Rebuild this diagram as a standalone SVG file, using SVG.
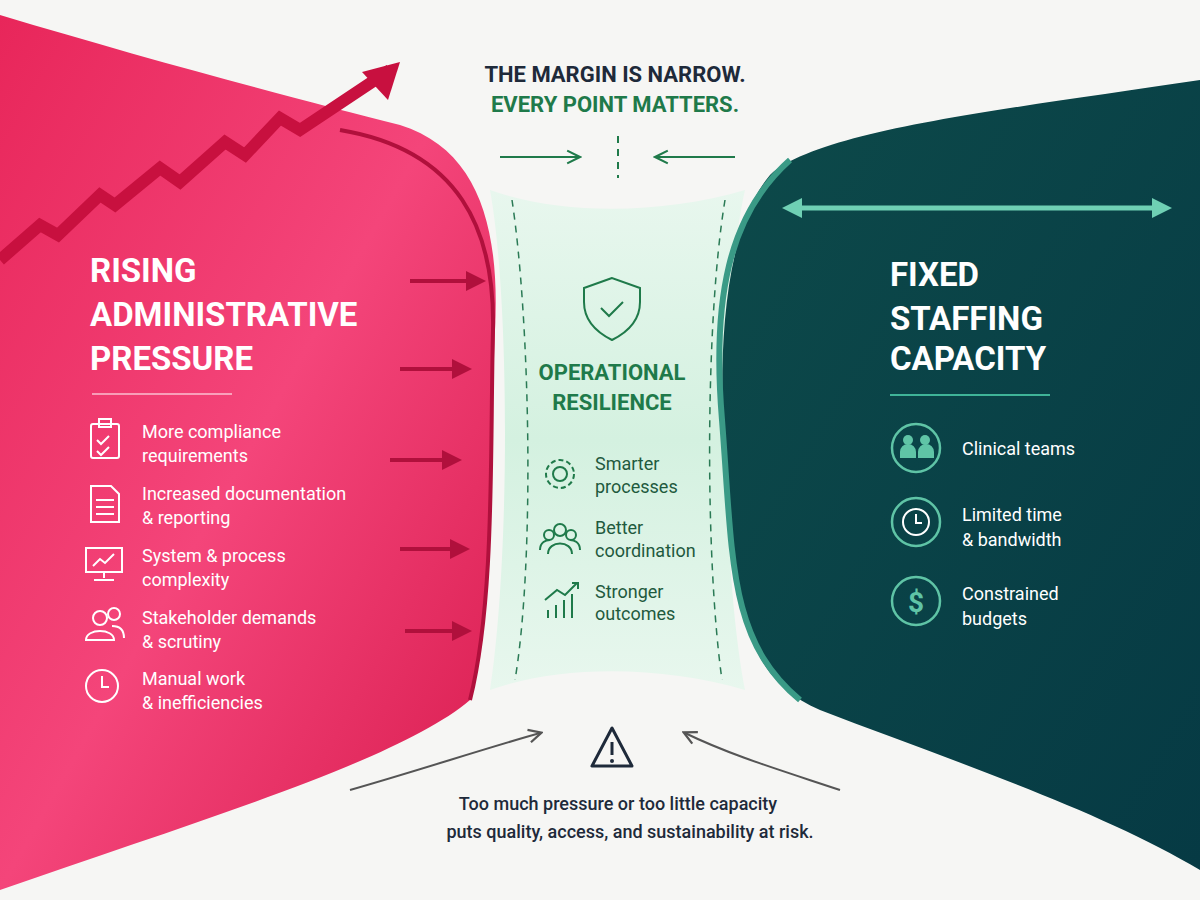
<svg xmlns="http://www.w3.org/2000/svg" width="1200" height="900" viewBox="0 0 1200 900">
<defs>
<linearGradient id="pk" x1="0" y1="0" x2="1" y2="1"><stop offset="0" stop-color="#e8265a"/><stop offset="0.5" stop-color="#f4457a"/><stop offset="1" stop-color="#d81b4e"/></linearGradient>
<linearGradient id="tl" x1="0" y1="0" x2="1" y2="1"><stop offset="0" stop-color="#0d4a4a"/><stop offset="1" stop-color="#063a44"/></linearGradient>
<linearGradient id="gr" x1="0" y1="0" x2="0" y2="1"><stop offset="0" stop-color="#e8f7ee"/><stop offset="0.5" stop-color="#d4f1e0"/><stop offset="1" stop-color="#e8f7ee"/></linearGradient>
<marker id="ar" viewBox="0 0 10 10" refX="8" refY="5" markerWidth="5" markerHeight="5" orient="auto"><path d="M0,0 L10,5 L0,10 z" fill="#b0103c"/></marker>
<marker id="ag" viewBox="0 0 10 10" refX="9" refY="5" markerWidth="8" markerHeight="8" orient="auto"><path d="M1,1 L9,5 L1,9" fill="none" stroke="#1f7a4a" stroke-width="1.3"/></marker>
<marker id="gy" viewBox="0 0 10 10" refX="8" refY="5" markerWidth="8" markerHeight="8" orient="auto"><path d="M1,1 L9,5 L1,9" fill="none" stroke="#555" stroke-width="1.4"/></marker>
<marker id="tt" viewBox="0 0 10 10" refX="5" refY="5" markerWidth="4" markerHeight="4" orient="auto-start-reverse"><path d="M0,0 L10,5 L0,10 z" fill="#6fd0b4"/></marker>
<style>
.h{font-family:Roboto,"Liberation Sans",sans-serif;font-weight:700}
.t{font-family:Roboto,"Liberation Sans",sans-serif;font-size:18px}
.w{fill:#fff}
.ic{fill:none;stroke:#fff;stroke-width:2}
.gi{fill:none;stroke:#1f7a4a;stroke-width:2}
.ti{fill:none;stroke:#5fc4a6;stroke-width:2.5}
</style>
</defs>
<rect width="1200" height="900" fill="#f6f6f4"/>
<g id="middle">
<path d="M490,190 C560,215 660,215 745,190 C720,300 720,560 745,690 C660,665 560,665 490,690 C510,560 510,300 490,190 Z" fill="url(#gr)"/>
<path d="M512,200 C530,320 535,560 515,680" fill="none" stroke="#2a7a55" stroke-width="1.5" stroke-dasharray="7,6"/>
<path d="M725,200 C705,320 705,560 722,680" fill="none" stroke="#2a7a55" stroke-width="1.5" stroke-dasharray="7,6"/>
</g>
<g id="left">
<path d="M0,15 C150,60 300,100 400,125 C480,150 500,230 495,330 C490,450 495,600 470,700 C400,760 200,820 0,890 Z" fill="url(#pk)"/>
<path d="M340,130 C460,150 495,230 493,330 C490,450 495,600 470,700" fill="none" stroke="#b0103c" stroke-width="4"/>
<path d="M0,260 L40,225 L58,235 L100,195 L115,205 L160,168 L180,182 L225,142 L245,155 L280,118 L300,130 L390,70" fill="none" stroke="#c8103f" stroke-width="12" stroke-linejoin="miter"/>
<path d="M400,62 L362,72 L388,100 Z" fill="#c8103f"/>
<text class="h w" font-size="33" x="90" y="282">RISING</text>
<text class="h w" font-size="33" x="90" y="326">ADMINISTRATIVE</text>
<text class="h w" font-size="33" x="90" y="370">PRESSURE</text>
<line x1="92" y1="394" x2="232" y2="394" stroke="#fff" stroke-opacity="0.5" stroke-width="2"/>
<rect x="91" y="424" width="28" height="34" rx="2" class="ic"/><rect x="99" y="419" width="12" height="8" class="ic"/><path d="M97,440 l4,4 l8,-8 M97,451 l4,4 l8,-8" class="ic"/>
<text class="t w" x="142" y="438">More compliance</text><text class="t w" x="142" y="462">requirements</text>
<path d="M91,486 h20 l8,8 v28 h-28 z M96,500 h18 M96,507 h18 M96,514 h18" class="ic"/>
<text class="t w" x="142" y="500">Increased documentation</text><text class="t w" x="142" y="524">&amp; reporting</text>
<rect x="86" y="548" width="36" height="24" class="ic"/><path d="M93,566 l7,-7 l5,4 l9,-9 M104,572 v6 M94,580 h20" class="ic"/>
<text class="t w" x="142" y="562">System &amp; process</text><text class="t w" x="142" y="586">complexity</text>
<circle cx="100" cy="618" r="7" class="ic"/><circle cx="114" cy="614" r="6" class="ic"/><path d="M86,640 c0,-12 28,-12 28,0 z M112,626 c8,0 12,4 12,12" class="ic"/>
<text class="t w" x="142" y="624">Stakeholder demands</text><text class="t w" x="142" y="648">&amp; scrutiny</text>
<circle cx="102" cy="686" r="16" class="ic"/><path d="M102,676 v11 h7" class="ic"/>
<text class="t w" x="142" y="685">Manual work</text><text class="t w" x="142" y="709">&amp; inefficiencies</text>
</g>
<g id="right">
<path d="M1200,80 C1000,110 820,130 770,175 C715,240 718,400 728,500 C738,620 750,680 820,710 C950,760 1100,810 1200,870 Z" fill="url(#tl)"/>
<path d="M790,160 C728,215 712,300 722,420 C733,560 728,640 800,700" fill="none" stroke="#3a9a86" stroke-width="6"/>
<line x1="792" y1="208" x2="1162" y2="208" stroke="#6fd0b4" stroke-width="5" marker-start="url(#tt)" marker-end="url(#tt)"/>
<text class="h w" font-size="33" x="890" y="286">FIXED</text>
<text class="h w" font-size="33" x="890" y="330">STAFFING</text>
<text class="h w" font-size="33" x="890" y="370">CAPACITY</text>
<line x1="890" y1="395" x2="1050" y2="395" stroke="#3fb498" stroke-width="2"/>
<circle cx="916" cy="448" r="24" class="ti"/><circle cx="908" cy="440" r="5" fill="#5fc4a6"/><circle cx="925" cy="440" r="5" fill="#5fc4a6"/><path d="M900,458 v-6 a8,8 0 0 1 16,0 v6 z M918,458 v-6 a8,8 0 0 1 16,0 v6 z" fill="#5fc4a6"/>
<text class="t w" x="962" y="455">Clinical teams</text>
<circle cx="916" cy="522" r="24" class="ti"/><circle cx="916" cy="522" r="13" fill="none" stroke="#fff" stroke-width="2"/><path d="M916,514 v9 h6" fill="none" stroke="#fff" stroke-width="2"/>
<text class="t w" x="962" y="521">Limited time</text><text class="t w" x="962" y="546">&amp; bandwidth</text>
<circle cx="916" cy="601" r="24" class="ti"/><text x="916" y="612" text-anchor="middle" class="h" font-size="28" fill="#5fc4a6">$</text>
<text class="t w" x="962" y="600">Constrained</text><text class="t w" x="962" y="625">budgets</text>
</g>
<g id="center">
<path d="M612,278 l-28,10 v14 c0,18 12,30 28,38 c16,-8 28,-20 28,-38 v-14 z" class="gi" stroke-width="3"/>
<path d="M601,308 l8,8 l14,-14" class="gi" stroke-width="3"/>
<text class="h" font-size="22" fill="#1f7a4a" x="612" y="380" text-anchor="middle">OPERATIONAL</text>
<text class="h" font-size="22" fill="#1f7a4a" x="612" y="410" text-anchor="middle">RESILIENCE</text>
<circle cx="560" cy="474" r="7" class="gi"/><circle cx="560" cy="474" r="14" class="gi" stroke-dasharray="5,3" stroke-width="4"/>
<text class="t" font-size="16" fill="#1f5a3e" x="595" y="470">Smarter</text><text class="t" font-size="16" fill="#1f5a3e" x="595" y="493">processes</text>
<circle cx="560" cy="530" r="6" class="gi"/><circle cx="549" cy="535" r="5" class="gi"/><circle cx="571" cy="535" r="5" class="gi"/><path d="M548,554 c0,-14 24,-14 24,0 M540,550 c0,-8 6,-10 10,-10 M580,550 c0,-8 -6,-10 -10,-10" class="gi"/>
<text class="t" font-size="16" fill="#1f5a3e" x="595" y="534">Better</text><text class="t" font-size="16" fill="#1f5a3e" x="595" y="557">coordination</text>
<path d="M548,618 v-8 M556,618 v-13 M564,618 v-18 M572,618 v-24 M545,600 l12,-10 l8,5 l12,-12 M572,583 h6 v6" class="gi"/>
<text class="t" font-size="16" fill="#1f5a3e" x="595" y="598">Stronger</text><text class="t" font-size="16" fill="#1f5a3e" x="595" y="620">outcomes</text>
</g>
<g id="headline">
<text class="h" font-size="22" fill="#1e2a3a" x="615" y="82" text-anchor="middle">THE MARGIN IS NARROW.</text>
<text class="h" font-size="22" fill="#1f7a4a" x="615" y="112" text-anchor="middle">EVERY POINT MATTERS.</text>
</g>
<g id="warning">
<path d="M612,728 l-20,38 h40 z" fill="none" stroke="#1e2a3a" stroke-width="3" stroke-linejoin="round"/>
<line x1="612" y1="742" x2="612" y2="755" stroke="#1e2a3a" stroke-width="3"/><circle cx="612" cy="761" r="2" fill="#1e2a3a"/>
<text class="t" font-size="19" font-weight="500" fill="#1e2a3a" x="618" y="810" text-anchor="middle">Too much pressure or too little capacity</text>
<text class="t" font-size="19" font-weight="500" fill="#1e2a3a" x="630" y="838" text-anchor="middle">puts quality, access, and sustainability at risk.</text>
</g>
<g id="connectors">
<line x1="500" y1="157" x2="580" y2="157" stroke="#1f7a4a" stroke-width="2" marker-end="url(#ag)"/>
<line x1="735" y1="157" x2="655" y2="157" stroke="#1f7a4a" stroke-width="2" marker-end="url(#ag)"/>
<line x1="618" y1="136" x2="618" y2="178" stroke="#1f7a4a" stroke-width="2" stroke-dasharray="7,6"/>
<g stroke="#b0103c" stroke-width="4" marker-end="url(#ar)">
<line x1="410" y1="281" x2="482" y2="281"/><line x1="400" y1="369" x2="468" y2="369"/><line x1="390" y1="460" x2="458" y2="460"/><line x1="400" y1="549" x2="466" y2="549"/><line x1="405" y1="631" x2="468" y2="631"/>
</g>
<path d="M350,790 C420,770 480,750 540,733" fill="none" stroke="#555" stroke-width="2" marker-end="url(#gy)"/>
<path d="M840,790 C780,770 730,755 685,733" fill="none" stroke="#555" stroke-width="2" marker-end="url(#gy)"/>
</g>
</svg>
